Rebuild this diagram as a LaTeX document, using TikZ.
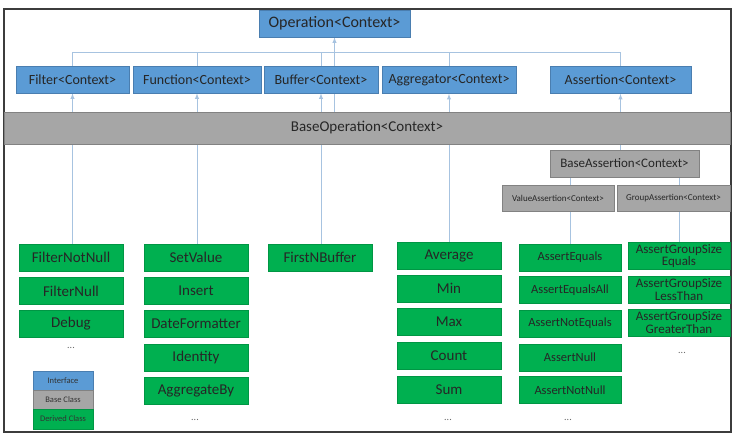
\documentclass[tikz,border=0pt]{standalone}
\usepackage{fontspec}
\setmainfont{Carlito}
\usepackage{tikz}
\usetikzlibrary{arrows,backgrounds}
\definecolor{ifaceblue}{RGB}{91,155,213}
\definecolor{ifaceedge}{RGB}{74,126,176}
\definecolor{basegray}{RGB}{166,166,166}
\definecolor{baseedge}{RGB}{130,130,130}
\definecolor{derivgreen}{RGB}{0,176,80}
\definecolor{derivedge}{RGB}{0,150,68}
\definecolor{linkblue}{RGB}{167,195,224}
\definecolor{framegray}{RGB}{60,60,60}
\tikzset{
iface/.style={draw=ifaceedge,fill=ifaceblue,line width=0.6pt,inner sep=0pt,minimum height=27pt,text=black!85,font=\fontsize{14}{16}\selectfont},
baseclass/.style={draw=baseedge,fill=basegray,line width=0.6pt,inner sep=0pt,minimum height=27pt,text=black!85,font=\fontsize{13}{15}\selectfont},
derived/.style={draw=derivedge,fill=derivgreen,line width=0.6pt,inner sep=0pt,minimum width=104pt,minimum height=27pt,text=black!85,font=\fontsize{15}{17}\selectfont},
assertbox/.style={derived,minimum width=102pt,font=\fontsize{12.5}{14}\selectfont},
groupbox/.style={derived,minimum width=102pt,align=center,font=\fontsize{13}{12.5}\selectfont},
legendbox/.style={inner sep=0pt,minimum width=60pt,minimum height=19pt,text=black!80,font=\fontsize{8.5}{9}\selectfont},
more/.style={inner sep=0pt,text=black!60,font=\fontsize{10}{10}\selectfont},
link/.style={draw=linkblue,line width=0.9pt},
>=latex}

\begin{document}
\begin{tikzpicture}[x=1pt,y=1pt,yscale=-1]
\useasboundingbox (0,0) rectangle (741,442);
% frame
\draw [framegray,line width=1.1pt] (4,9) rectangle (731,432);

% Interfaces
\node [iface,minimum width=151pt,font=\fontsize{16}{18}\selectfont] (op) at (334.5,23.5) {Operation<Context>};
\node [iface,minimum width=113pt] (filter) at (72.5,79.5) {Filter<Context>};
\node [iface,minimum width=128pt] (function) at (197,79.5) {Function<Context>};
\node [iface,minimum width=114pt] (buffer) at (321,79.5) {Buffer<Context>};
\node [iface,minimum width=134pt] (aggr) at (449,80) {Aggregator<Context>};
\node [iface,minimum width=141pt] (assertion) at (620.5,80) {Assertion<Context>};
\coordinate (bus) at (334.5,52);

% Base classes
\node [baseclass,minimum width=726pt,minimum height=32pt,font=\fontsize{15}{17}\selectfont] (baseop) at (367,128) {BaseOperation<Context>};
\node [baseclass,minimum width=149pt] (baseassert) at (624.5,163.5) {BaseAssertion<Context>};
\node [baseclass,minimum width=112pt,minimum height=26pt,font=\fontsize{9}{10}\selectfont] (valassert) at (558,198) {ValueAssertion<Context>};
\node [baseclass,minimum width=113pt,minimum height=26pt,font=\fontsize{9}{10}\selectfont] (grpassert) at (673.5,198) {GroupAssertion<Context>};

% Filters
\node [derived] (fnotnull) at (71,257.5) {FilterNotNull};
\node [derived] (fnull) at (71,291) {FilterNull};
\node [derived] (debug) at (71,323.5) {Debug};
\node [more] (fmore) at (71,348) {...};

% Functions
\node [derived] (setvalue) at (196,257.5) {SetValue};
\node [derived] (insert) at (196,291) {Insert};
\node [derived] (datefmt) at (196,323.5) {DateFormatter};
\node [derived] (identity) at (196,357.5) {Identity};
\node [derived] (aggrby) at (196,391) {AggregateBy};
\node [more] (fnmore) at (195,420) {...};

% Buffers
\node [derived] (firstn) at (320,257.5) {FirstNBuffer};

% Aggregators
\node [derived] (average) at (449,256) {Average};
\node [derived] (min) at (449,288.5) {Min};
\node [derived] (max) at (449,322) {Max};
\node [derived] (count) at (449,355.5) {Count};
\node [derived] (sum) at (449,389.5) {Sum};
\node [more] (agmore) at (448,420) {...};

% Value assertions
\node [assertbox] (aeq) at (570,257.5) {AssertEquals};
\node [assertbox] (aeqall) at (570,290) {AssertEqualsAll};
\node [assertbox] (aneq) at (570,323.5) {AssertNotEquals};
\node [assertbox] (anull) at (570,357.5) {AssertNull};
\node [assertbox] (anotnull) at (570,390) {AssertNotNull};
\node [more] (vamore) at (568,420) {...};

% Group assertions
\node [groupbox] (gseq) at (679,256) {AssertGroupSize\\Equals};
\node [groupbox] (gsless) at (679,289.5) {AssertGroupSize\\LessThan};
\node [groupbox] (gsgreater) at (679,322.5) {AssertGroupSize\\GreaterThan};
\node [more] (gamore) at (682,353) {...};

% Legend
\node [legendbox,draw=ifaceedge,fill=ifaceblue] (lgiface) at (63,380.5) {Interface};
\node [legendbox,draw=baseedge,fill=basegray] (lgbase) at (63,399.5) {Base Class};
\node [legendbox,draw=derivedge,fill=derivgreen,minimum height=20pt] (lgderived) at (63,419) {Derived Class};

% Links
\begin{pgfonlayer}{background}
\draw [link] (filter.north) |- (bus);
\draw [link] (function.north) |- (bus);
\draw [link] (buffer.north) |- (bus);
\draw [link] (aggr.north) |- (bus);
\draw [link] (assertion.north) |- (bus);
\draw [link,->] (bus) -- (op.south);
\draw [link] (baseop.north -| bus) -- (bus);
\draw [link,->] (filter.south |- fnotnull.north) -- (filter.south);
\draw [link,->] (function.south |- setvalue.north) -- (function.south);
\draw [link,->] (buffer.south |- firstn.north) -- (buffer.south);
\draw [link,->] (aggr.south |- average.north) -- (aggr.south);
\draw [link,->] (assertion.south |- baseassert.north) -- (assertion.south);
\draw [link] (aeq.north) -- (aeq.north |- baseassert.south);
\draw [link] (gseq.north) -- (gseq.north |- baseassert.south);
\end{pgfonlayer}
\end{tikzpicture}
\end{document}
